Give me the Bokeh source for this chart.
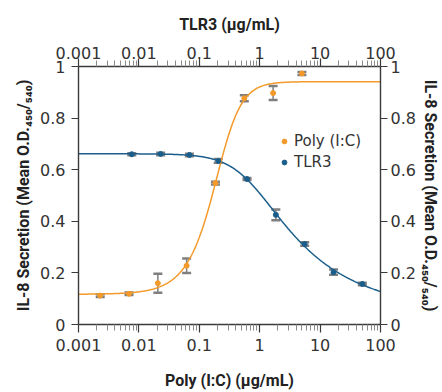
import numpy as np
from bokeh.plotting import figure
from bokeh.models import (LogAxis, LinearAxis, FixedTicker, CustomJSTickFormatter,
                          Whisker, TeeHead, ColumnDataSource, Legend, LegendItem, Range1d)
from bokeh.embed import file_html
from bokeh.resources import INLINE

# ---- data ----
poly_conc = [0.00229, 0.00686, 0.0206, 0.0617, 0.185, 0.556, 1.667, 5.0]
poly_mean = [0.112, 0.119, 0.160, 0.228, 0.548, 0.877, 0.897, 0.973]
poly_err = [0.005, 0.005, 0.037, 0.028, 0.005, 0.012, 0.027, 0.006]

tlr3_conc = [0.00762, 0.0229, 0.0686, 0.206, 0.617, 1.85, 5.56, 16.7, 50.0]
tlr3_mean = [0.660, 0.661, 0.657, 0.634, 0.564, 0.425, 0.312, 0.203, 0.157]
tlr3_err = [0.004, 0.005, 0.005, 0.007, 0.004, 0.021, 0.007, 0.010, 0.005]

x_ticks = [0.001, 0.01, 0.1, 1, 10, 100]
x_tick_labels = ["0.001", "0.01", "0.1", "1", "10", "100"]
y_ticks = [0, 0.2, 0.4, 0.6, 0.8, 1]
y_tick_labels = ["0", "0.2", "0.4", "0.6", "0.8", "1"]

ORANGE = "#F39A2B"
BLUE = "#1B5E8C"
GREY = "#7F7F7F"
AXIS = "#3A3A3A"


# ---- dose-response (5-parameter logistic) least-squares fit of the points ----
def fit_logistic(x, y, h_range):
    lx = np.log10(np.asarray(x))[None, None, None, :]
    yy = np.asarray(y)[None, None, None, :]

    def search(lec_v, h_v, s_v):
        L = lec_v[:, None, None, None]
        H = h_v[None, :, None, None]
        S = s_v[None, None, :, None]
        g = (1.0 + 10.0 ** (H * (L - lx))) ** (-S)
        a = 1.0 - g
        saa = (a * a).sum(-1); sac = (a * g).sum(-1); scc = (g * g).sum(-1)
        say = (a * yy).sum(-1); scy = (g * yy).sum(-1)
        det = saa * scc - sac * sac
        det = np.where(np.abs(det) < 1e-12, np.nan, det)
        b = (say * scc - sac * scy) / det
        t = (saa * scy - sac * say) / det
        sse = ((yy - b[..., None] * a - t[..., None] * g) ** 2).sum(-1)
        sse = np.where(np.isnan(sse), np.inf, sse)
        i = np.unravel_index(np.argmin(sse), sse.shape)
        return lec_v[i[0]], h_v[i[1]], s_v[i[2]], b[i], t[i]

    lec, h, s, b, t = search(np.linspace(-2.5, 1.5, 161), np.linspace(*h_range, 40),
                             np.linspace(0.3, 2.5, 23))
    lec, h, s, b, t = search(np.linspace(lec - 0.05, lec + 0.05, 21),
                             np.linspace(h - 0.06, h + 0.06, 13),
                             np.linspace(max(0.2, s - 0.1), s + 0.1, 11))
    return lec, h, s, b, t


def curve(xs, p):
    lec, h, s, b, t = p
    g = (1.0 + 10.0 ** (h * (lec - np.log10(xs)))) ** (-s)
    return b + (t - b) * g


xs = np.logspace(-3, 2, 400)
poly_fit = curve(xs, fit_logistic(poly_conc, poly_mean, (0.5, 4.0)))
tlr3_fit = curve(xs, fit_logistic(tlr3_conc, tlr3_mean, (-4.0, -0.3)))

p = figure(width=442, height=392, x_axis_type="log",
           x_range=Range1d(0.001, 100), y_range=Range1d(0, 1),
           output_backend="svg", toolbar_location=None,
           min_border_left=78, min_border_right=61, min_border_top=66, min_border_bottom=68)
p.grid.visible = False
p.outline_line_color = None
p.background_fill_color = "white"
p.border_fill_color = "white"

bottom_axis = p.below[0]
left_axis = p.left[0]

minor = [k * 10.0 ** d for d in range(-3, 2) for k in range(2, 10)]
x_ticker = FixedTicker(ticks=x_ticks, minor_ticks=minor)
y_ticker = FixedTicker(ticks=y_ticks)
x_fmt = CustomJSTickFormatter(args=dict(t=x_ticks, l=x_tick_labels), code="""
  for (let i = 0; i < t.length; i++) { if (Math.abs(Math.log10(tick) - Math.log10(t[i])) < 1e-6) return l[i]; }
  return '';""")
y_fmt = CustomJSTickFormatter(args=dict(t=y_ticks, l=y_tick_labels), code="""
  for (let i = 0; i < t.length; i++) { if (Math.abs(tick - t[i]) < 1e-6) return l[i]; }
  return '';""")

top_axis = LogAxis(ticker=x_ticker, formatter=x_fmt, axis_label="TLR3 (µg/mL)")
right_axis = LinearAxis(ticker=y_ticker, formatter=y_fmt,
                        axis_label="IL-8 Secretion (Mean O.D.₄₅₀/₅₄₀)")
p.add_layout(top_axis, "above")
p.add_layout(right_axis, "right")

bottom_axis.ticker = x_ticker
bottom_axis.formatter = x_fmt
bottom_axis.axis_label = "Poly (I:C) (µg/mL)"
left_axis.ticker = y_ticker
left_axis.formatter = y_fmt
left_axis.axis_label = "IL-8 Secretion (Mean O.D.₄₅₀/₅₄₀)"

for ax in [bottom_axis, top_axis, left_axis, right_axis]:
    ax.axis_line_color = AXIS
    ax.axis_line_width = 1.4
    ax.major_tick_line_color = AXIS
    ax.major_tick_line_width = 1.2
    ax.major_tick_out = 8
    ax.major_tick_in = 0
    ax.minor_tick_line_color = "#8A8A8A"
    ax.minor_tick_line_width = 1
    ax.minor_tick_out = 6
    ax.minor_tick_in = 0
    ax.major_label_text_font = "DejaVu Sans"
    ax.major_label_text_font_size = "16px"
    ax.major_label_text_color = "#333333"
    ax.major_label_standoff = 4
    ax.axis_label_text_font = "Roboto"
    ax.axis_label_text_font_style = "bold"
    ax.axis_label_text_font_size = "16px"
    ax.axis_label_text_color = "#222222"
    ax.axis_label_standoff = 10

for ax in [left_axis, right_axis]:
    ax.minor_tick_line_color = None
    ax.major_tick_out = 7
left_axis.major_label_standoff = 6
left_axis.axis_label_standoff = 4
right_axis.axis_label_standoff = 2
right_axis.major_label_standoff = 3
top_axis.major_label_standoff = 0
bottom_axis.major_label_standoff = 6
bottom_axis.axis_label_standoff = 17

# fitted curves
p.line(xs, tlr3_fit, line_color=BLUE, line_width=1.5)
p.line(xs, poly_fit, line_color=ORANGE, line_width=1.5)

poly_src = ColumnDataSource(dict(x=poly_conc, y=poly_mean,
                                 upper=[m + e for m, e in zip(poly_mean, poly_err)],
                                 lower=[m - e for m, e in zip(poly_mean, poly_err)]))
tlr3_src = ColumnDataSource(dict(x=tlr3_conc, y=tlr3_mean,
                                 upper=[m + e for m, e in zip(tlr3_mean, tlr3_err)],
                                 lower=[m - e for m, e in zip(tlr3_mean, tlr3_err)]))

r_poly = p.scatter("x", "y", source=poly_src, size=5, color=ORANGE)
r_tlr3 = p.scatter("x", "y", source=tlr3_src, size=5, color=BLUE)

for src in (poly_src, tlr3_src):
    p.add_layout(Whisker(source=src, base="x", upper="upper", lower="lower",
                         dimension="height", line_color=GREY, line_width=1.5,
                         upper_head=TeeHead(size=9, line_color=GREY, line_width=2.5),
                         lower_head=TeeHead(size=9, line_color=GREY, line_width=2.5)))

legend = Legend(items=[LegendItem(label="Poly (I:C)", renderers=[r_poly]),
                       LegendItem(label="TLR3", renderers=[r_tlr3])],
                location=(200, 152), border_line_color=None, background_fill_alpha=0,
                label_text_font="DejaVu Sans", label_text_font_size="15px",
                label_text_color="#333333",
                glyph_width=12, glyph_height=20, label_height=20, spacing=1,
                padding=0, margin=0, label_standoff=4)
p.add_layout(legend)

open("out.html", "w").write(file_html(p, INLINE))
